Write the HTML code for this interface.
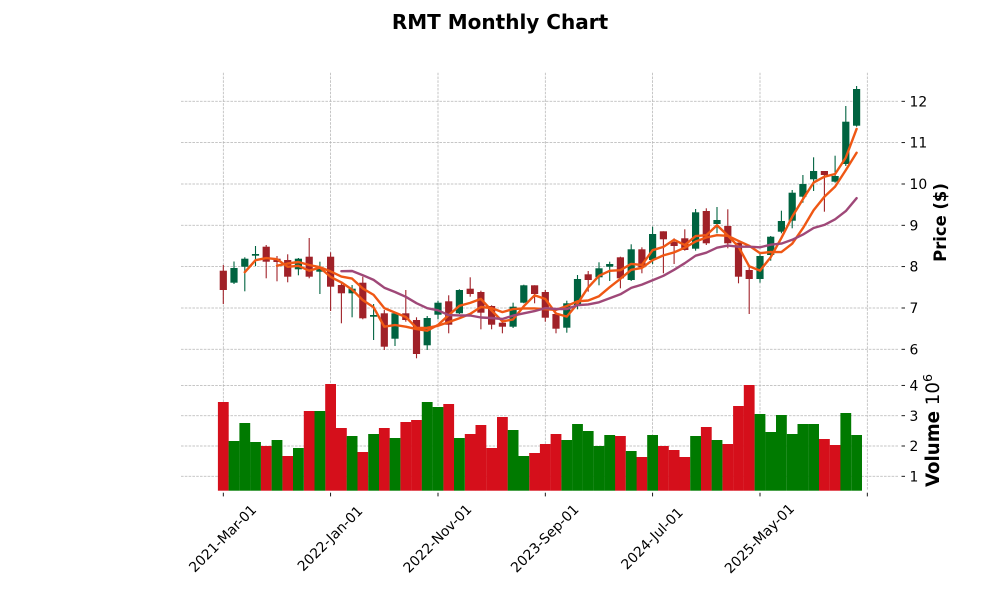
<!DOCTYPE html>
<html><head><meta charset="utf-8"><style>
html,body{margin:0;padding:0;background:#fff;}
svg{display:block;}
text{font-family:"DejaVu Sans","Liberation Sans",sans-serif;fill:#000;}
</style></head><body>
<svg width="1000" height="600" viewBox="0 0 1000 600" xmlns="http://www.w3.org/2000/svg">
<rect width="1000" height="600" fill="#fff"/>
<text x="500" y="29" text-anchor="middle" font-size="20" font-weight="bold">RMT Monthly Chart</text>
<g stroke="#b4b4b4" stroke-width="0.75" stroke-dasharray="2.6,1.2" fill="none">
<line x1="223.3" y1="72.7" x2="223.3" y2="490.7"/><line x1="330.6" y1="72.7" x2="330.6" y2="490.7"/><line x1="438" y1="72.7" x2="438" y2="490.7"/><line x1="545.3" y1="72.7" x2="545.3" y2="490.7"/><line x1="652.6" y1="72.7" x2="652.6" y2="490.7"/><line x1="760" y1="72.7" x2="760" y2="490.7"/><line x1="867.3" y1="72.7" x2="867.3" y2="490.7"/>
<line x1="181" y1="101.3" x2="898.6" y2="101.3"/><line x1="181" y1="142.6" x2="898.6" y2="142.6"/><line x1="181" y1="184" x2="898.6" y2="184"/><line x1="181" y1="225.3" x2="898.6" y2="225.3"/><line x1="181" y1="266.6" x2="898.6" y2="266.6"/><line x1="181" y1="308" x2="898.6" y2="308"/><line x1="181" y1="349.3" x2="898.6" y2="349.3"/>
<line x1="181" y1="385.4" x2="898.6" y2="385.4"/><line x1="181" y1="415.7" x2="898.6" y2="415.7"/><line x1="181" y1="446" x2="898.6" y2="446"/><line x1="181" y1="476.3" x2="898.6" y2="476.3"/>
</g>
<g fill="#d50f1b">
<rect x="217.9" y="402" width="10.8" height="88.7"/><rect x="260.8" y="446" width="10.8" height="44.7"/><rect x="282.3" y="456" width="10.8" height="34.7"/><rect x="303.8" y="411" width="10.8" height="79.7"/><rect x="325.2" y="384" width="10.8" height="106.7"/><rect x="336" y="428" width="10.8" height="62.7"/><rect x="357.4" y="452" width="10.8" height="38.7"/><rect x="378.9" y="428" width="10.8" height="62.7"/><rect x="400.4" y="422" width="10.8" height="68.7"/><rect x="411.1" y="420" width="10.8" height="70.7"/><rect x="443.3" y="404" width="10.8" height="86.7"/><rect x="464.8" y="434" width="10.8" height="56.7"/><rect x="475.5" y="425" width="10.8" height="65.7"/><rect x="486.2" y="448" width="10.8" height="42.7"/><rect x="497" y="417" width="10.8" height="73.7"/><rect x="529.2" y="453" width="10.8" height="37.7"/><rect x="539.9" y="444" width="10.8" height="46.7"/><rect x="550.6" y="434" width="10.8" height="56.7"/><rect x="615" y="436" width="10.8" height="54.7"/><rect x="636.5" y="457" width="10.8" height="33.7"/><rect x="658" y="446" width="10.8" height="44.7"/><rect x="668.7" y="450" width="10.8" height="40.7"/><rect x="679.4" y="457" width="10.8" height="33.7"/><rect x="700.9" y="427" width="10.8" height="63.7"/><rect x="722.4" y="444" width="10.8" height="46.7"/><rect x="733.1" y="406" width="10.8" height="84.7"/><rect x="743.8" y="385" width="10.8" height="105.7"/><rect x="819" y="439" width="10.8" height="51.7"/><rect x="829.7" y="445" width="10.8" height="45.7"/>
</g>
<g fill="#007a00">
<rect x="228.6" y="441" width="10.8" height="49.7"/><rect x="239.4" y="423" width="10.8" height="67.7"/><rect x="250.1" y="442" width="10.8" height="48.7"/><rect x="271.6" y="440" width="10.8" height="50.7"/><rect x="293" y="448" width="10.8" height="42.7"/><rect x="314.5" y="411" width="10.8" height="79.7"/><rect x="346.7" y="436" width="10.8" height="54.7"/><rect x="368.2" y="434" width="10.8" height="56.7"/><rect x="389.6" y="438" width="10.8" height="52.7"/><rect x="421.8" y="402" width="10.8" height="88.7"/><rect x="432.6" y="407" width="10.8" height="83.7"/><rect x="454" y="438" width="10.8" height="52.7"/><rect x="507.7" y="430" width="10.8" height="60.7"/><rect x="518.4" y="456" width="10.8" height="34.7"/><rect x="561.4" y="440" width="10.8" height="50.7"/><rect x="572.1" y="424" width="10.8" height="66.7"/><rect x="582.8" y="431" width="10.8" height="59.7"/><rect x="593.6" y="446" width="10.8" height="44.7"/><rect x="604.3" y="435" width="10.8" height="55.7"/><rect x="625.8" y="451" width="10.8" height="39.7"/><rect x="647.2" y="435" width="10.8" height="55.7"/><rect x="690.2" y="436" width="10.8" height="54.7"/><rect x="711.6" y="440" width="10.8" height="50.7"/><rect x="754.6" y="414" width="10.8" height="76.7"/><rect x="765.3" y="432" width="10.8" height="58.7"/><rect x="776" y="415" width="10.8" height="75.7"/><rect x="786.8" y="434" width="10.8" height="56.7"/><rect x="797.5" y="424" width="10.8" height="66.7"/><rect x="808.2" y="424" width="10.8" height="66.7"/><rect x="840.4" y="413" width="10.8" height="77.7"/><rect x="851.2" y="435" width="10.8" height="55.7"/>
</g>
<g stroke="#a02128" stroke-width="1.1" fill="#a02128">
<line x1="223.3" y1="265" x2="223.3" y2="304"/><rect x="219.7" y="270.7" width="7.2" height="19.3" stroke="none"/>
<line x1="266.2" y1="245" x2="266.2" y2="278.3"/><rect x="262.6" y="246.7" width="7.2" height="15" stroke="none"/>
<line x1="277" y1="256" x2="277" y2="281.3"/><rect x="273.4" y="258.7" width="7.2" height="3.3" stroke="none"/>
<line x1="287.7" y1="254.3" x2="287.7" y2="282.3"/><rect x="284.1" y="260" width="7.2" height="16.7" stroke="none"/>
<line x1="309.2" y1="238" x2="309.2" y2="278.3"/><rect x="305.6" y="256.7" width="7.2" height="20" stroke="none"/>
<line x1="330.6" y1="252.3" x2="330.6" y2="311"/><rect x="327" y="256.7" width="7.2" height="30" stroke="none"/>
<line x1="341.4" y1="283.3" x2="341.4" y2="323.3"/><rect x="337.8" y="285" width="7.2" height="8.3" stroke="none"/>
<line x1="362.8" y1="276.7" x2="362.8" y2="319.3"/><rect x="359.2" y="282.7" width="7.2" height="35.6" stroke="none"/>
<line x1="384.3" y1="310" x2="384.3" y2="350"/><rect x="380.7" y="313.3" width="7.2" height="33.4" stroke="none"/>
<line x1="405.8" y1="290" x2="405.8" y2="321.7"/><rect x="402.2" y="313.3" width="7.2" height="6.7" stroke="none"/>
<line x1="416.5" y1="317.3" x2="416.5" y2="358.3"/><rect x="412.9" y="320" width="7.2" height="34" stroke="none"/>
<line x1="448.7" y1="295.3" x2="448.7" y2="333.3"/><rect x="445.1" y="301.3" width="7.2" height="23.4" stroke="none"/>
<line x1="470.2" y1="277.3" x2="470.2" y2="296.7"/><rect x="466.6" y="288.7" width="7.2" height="5.3" stroke="none"/>
<line x1="480.9" y1="290.7" x2="480.9" y2="329.3"/><rect x="477.3" y="292" width="7.2" height="20.7" stroke="none"/>
<line x1="491.6" y1="305.3" x2="491.6" y2="329.3"/><rect x="488" y="306" width="7.2" height="18.7" stroke="none"/>
<line x1="502.4" y1="320" x2="502.4" y2="333.3"/><rect x="498.8" y="322.7" width="7.2" height="4" stroke="none"/>
<line x1="534.6" y1="285.3" x2="534.6" y2="303.3"/><rect x="531" y="285.3" width="7.2" height="8.7" stroke="none"/>
<line x1="545.3" y1="290" x2="545.3" y2="321.7"/><rect x="541.7" y="292" width="7.2" height="25.7" stroke="none"/>
<line x1="556" y1="312.7" x2="556" y2="333.3"/><rect x="552.4" y="314" width="7.2" height="14.7" stroke="none"/>
<line x1="588.2" y1="271" x2="588.2" y2="291.7"/><rect x="584.6" y="274.3" width="7.2" height="5.7" stroke="none"/>
<line x1="620.4" y1="256.7" x2="620.4" y2="288.3"/><rect x="616.8" y="257.3" width="7.2" height="21" stroke="none"/>
<line x1="641.9" y1="247.3" x2="641.9" y2="273.3"/><rect x="638.3" y="249.3" width="7.2" height="18" stroke="none"/>
<line x1="663.4" y1="231.3" x2="663.4" y2="273.3"/><rect x="659.8" y="231.3" width="7.2" height="8" stroke="none"/>
<line x1="674.1" y1="238.3" x2="674.1" y2="264"/><rect x="670.5" y="242" width="7.2" height="4" stroke="none"/>
<line x1="684.8" y1="229.3" x2="684.8" y2="250.7"/><rect x="681.2" y="238.3" width="7.2" height="11.7" stroke="none"/>
<line x1="706.3" y1="208.3" x2="706.3" y2="245"/><rect x="702.7" y="211" width="7.2" height="32.3" stroke="none"/>
<line x1="727.8" y1="209.3" x2="727.8" y2="248.3"/><rect x="724.2" y="226" width="7.2" height="17.3" stroke="none"/>
<line x1="738.5" y1="242.7" x2="738.5" y2="283.3"/><rect x="734.9" y="242.7" width="7.2" height="34" stroke="none"/>
<line x1="749.2" y1="266.7" x2="749.2" y2="314"/><rect x="745.6" y="270" width="7.2" height="9" stroke="none"/>
<line x1="824.4" y1="171" x2="824.4" y2="211.7"/><rect x="820.8" y="171" width="7.2" height="4" stroke="none"/>
</g>
<g stroke="#006340" stroke-width="1.1" fill="#006340">
<line x1="234" y1="261.5" x2="234" y2="284"/><rect x="230.4" y="268" width="7.2" height="14.7" stroke="none"/>
<line x1="244.8" y1="257.3" x2="244.8" y2="291.3"/><rect x="241.2" y="258.7" width="7.2" height="8" stroke="none"/>
<line x1="255.5" y1="246" x2="255.5" y2="266"/><rect x="251.9" y="254" width="7.2" height="1.7" stroke="none"/>
<line x1="298.4" y1="258" x2="298.4" y2="275.3"/><rect x="294.8" y="258.7" width="7.2" height="10.6" stroke="none"/>
<line x1="319.9" y1="261.7" x2="319.9" y2="294"/><rect x="316.3" y="267.3" width="7.2" height="4.4" stroke="none"/>
<line x1="352.1" y1="285" x2="352.1" y2="317.3"/><rect x="348.5" y="288.7" width="7.2" height="4.6" stroke="none"/>
<line x1="373.6" y1="304" x2="373.6" y2="340"/><rect x="370" y="315" width="7.2" height="1.7" stroke="none"/>
<line x1="395" y1="312.3" x2="395" y2="346"/><rect x="391.4" y="313.3" width="7.2" height="25.4" stroke="none"/>
<line x1="427.2" y1="316" x2="427.2" y2="350"/><rect x="423.6" y="318" width="7.2" height="27.3" stroke="none"/>
<line x1="438" y1="300.7" x2="438" y2="319.3"/><rect x="434.4" y="302.7" width="7.2" height="12" stroke="none"/>
<line x1="459.4" y1="289.3" x2="459.4" y2="314"/><rect x="455.8" y="290" width="7.2" height="23.3" stroke="none"/>
<line x1="513.1" y1="302.7" x2="513.1" y2="328"/><rect x="509.5" y="306.7" width="7.2" height="20" stroke="none"/>
<line x1="523.8" y1="284.7" x2="523.8" y2="303.3"/><rect x="520.2" y="285.3" width="7.2" height="17.4" stroke="none"/>
<line x1="566.8" y1="300.7" x2="566.8" y2="332.7"/><rect x="563.2" y="303.3" width="7.2" height="24.4" stroke="none"/>
<line x1="577.5" y1="275" x2="577.5" y2="309.3"/><rect x="573.9" y="279" width="7.2" height="26" stroke="none"/>
<line x1="599" y1="262.3" x2="599" y2="285.3"/><rect x="595.4" y="268.3" width="7.2" height="9" stroke="none"/>
<line x1="609.7" y1="261.7" x2="609.7" y2="281"/><rect x="606.1" y="264" width="7.2" height="2.7" stroke="none"/>
<line x1="631.2" y1="244.3" x2="631.2" y2="281"/><rect x="627.6" y="249.3" width="7.2" height="30.7" stroke="none"/>
<line x1="652.6" y1="226.7" x2="652.6" y2="264"/><rect x="649" y="234" width="7.2" height="26" stroke="none"/>
<line x1="695.6" y1="209" x2="695.6" y2="250.7"/><rect x="692" y="212.3" width="7.2" height="36.4" stroke="none"/>
<line x1="717" y1="207" x2="717" y2="233.3"/><rect x="713.4" y="220" width="7.2" height="4" stroke="none"/>
<line x1="760" y1="253.3" x2="760" y2="282.7"/><rect x="756.4" y="256" width="7.2" height="23" stroke="none"/>
<line x1="770.7" y1="236" x2="770.7" y2="260.7"/><rect x="767.1" y="236.7" width="7.2" height="18.3" stroke="none"/>
<line x1="781.4" y1="210.7" x2="781.4" y2="233.3"/><rect x="777.8" y="221" width="7.2" height="10.7" stroke="none"/>
<line x1="792.2" y1="190" x2="792.2" y2="228.3"/><rect x="788.6" y="192.7" width="7.2" height="28" stroke="none"/>
<line x1="802.9" y1="175" x2="802.9" y2="202.7"/><rect x="799.3" y="184" width="7.2" height="12.7" stroke="none"/>
<line x1="813.6" y1="157.3" x2="813.6" y2="191"/><rect x="810" y="171" width="7.2" height="8.3" stroke="none"/>
<line x1="835.1" y1="155.7" x2="835.1" y2="182.7"/><rect x="831.5" y="176" width="7.2" height="5.7" stroke="none"/>
<line x1="845.8" y1="106" x2="845.8" y2="166"/><rect x="842.2" y="121.7" width="7.2" height="42.3" stroke="none"/>
<line x1="856.6" y1="86" x2="856.6" y2="126.7"/><rect x="853" y="89" width="7.2" height="36.7" stroke="none"/>
</g>
<g fill="none" stroke-width="2.4" stroke-linejoin="round" stroke-linecap="round">
<polyline stroke="#ef5714" points="244.8,272.2 255.5,260.2 266.2,258.1 277.0,259.2 287.7,266.8 298.4,265.8 309.2,270.7 319.9,267.6 330.6,276.9 341.4,282.4 352.1,289.6 362.8,300.1 373.6,307.3 384.3,326.7 395.0,325 405.8,326.7 416.5,329.1 427.2,330.7 438.0,324.9 448.7,315.1 459.4,305.8 470.2,302.9 480.9,298.9 491.6,310.5 502.4,321.4 513.1,319.4 523.8,306.2 534.6,295.3 545.3,299 556.0,313.5 566.8,316.6 577.5,303.7 588.2,287.4 599.0,275.8 609.7,270.8 620.4,270.2 631.2,263.9 641.9,265 652.6,250.2 663.4,246.9 674.1,239.8 684.8,245.1 695.6,236.1 706.3,235.2 717.0,225.2 727.8,235.5 738.5,246.7 749.2,266.3 760.0,270.6 770.7,257.2 781.4,237.9 792.2,216.8 802.9,199.2 813.6,182.6 824.4,176.7 835.1,174 845.8,157.6 856.6,128.9"/>
<polyline stroke="#ef5714" points="277.0,265.7 287.7,263.5 298.4,262 309.2,265 319.9,267.2 330.6,271.4 341.4,276.6 352.1,278.6 362.8,288.5 373.6,294.9 384.3,308.1 395.0,312.6 405.8,317 416.5,327.9 427.2,327.8 438.0,325.8 448.7,322.1 459.4,318.2 470.2,313.9 480.9,307 491.6,308.1 502.4,312.1 513.1,309.1 523.8,308.4 534.6,308.4 545.3,309.2 556.0,309.9 566.8,306 577.5,301.3 588.2,300.5 599.0,296.2 609.7,287.2 620.4,278.8 631.2,269.8 641.9,267.9 652.6,260.2 663.4,255.4 674.1,252.4 684.8,247.7 695.6,241.5 706.3,237.5 717.0,235.2 727.8,235.8 738.5,240.9 749.2,245.8 760.0,253.1 770.7,252 781.4,252.1 792.2,243.7 802.9,228.2 813.6,210.2 824.4,196.7 835.1,186.6 845.8,170.1 856.6,152.8"/>
<polyline stroke="#9f4878" points="341.4,271.2 352.1,271 362.8,275.2 373.6,279.9 384.3,287.7 395.0,292 405.8,296.8 416.5,303.2 427.2,308.2 438.0,310.3 448.7,315.1 459.4,315.4 470.2,315.5 480.9,317.5 491.6,318 502.4,319 513.1,315.6 523.8,313.3 534.6,311.1 545.3,308.1 556.0,309 566.8,309 577.5,305.2 588.2,304.4 599.0,302.3 609.7,298.2 620.4,294.3 631.2,287.9 641.9,284.6 652.6,280.3 663.4,275.8 674.1,269.8 684.8,263.2 695.6,255.7 706.3,252.7 717.0,247.7 727.8,245.6 738.5,246.7 749.2,246.7 760.0,247.3 770.7,244.7 781.4,243.6 792.2,239.8 802.9,234.6 813.6,228 824.4,224.9 835.1,219.3 845.8,211.1 856.6,198.2"/>
</g>
<g stroke="#000" stroke-width="0.9">
<line x1="901.5" y1="101.3" x2="905" y2="101.3"/><line x1="901.5" y1="142.6" x2="905" y2="142.6"/><line x1="901.5" y1="184" x2="905" y2="184"/><line x1="901.5" y1="225.3" x2="905" y2="225.3"/><line x1="901.5" y1="266.6" x2="905" y2="266.6"/><line x1="901.5" y1="308" x2="905" y2="308"/><line x1="901.5" y1="349.3" x2="905" y2="349.3"/>
<line x1="901.5" y1="385.4" x2="905" y2="385.4"/><line x1="901.5" y1="415.7" x2="905" y2="415.7"/><line x1="901.5" y1="446" x2="905" y2="446"/><line x1="901.5" y1="476.3" x2="905" y2="476.3"/>
<line x1="223.3" y1="492.7" x2="223.3" y2="496.4"/><line x1="330.6" y1="492.7" x2="330.6" y2="496.4"/><line x1="438" y1="492.7" x2="438" y2="496.4"/><line x1="545.3" y1="492.7" x2="545.3" y2="496.4"/><line x1="652.6" y1="492.7" x2="652.6" y2="496.4"/><line x1="760" y1="492.7" x2="760" y2="496.4"/><line x1="867.3" y1="492.7" x2="867.3" y2="496.4"/>
</g>
<g font-size="13.9">
<text x="909.5" y="106.4">12</text><text x="909.5" y="147.7">11</text><text x="909.5" y="189.1">10</text><text x="909.5" y="230.4">9</text><text x="909.5" y="271.7">8</text><text x="909.5" y="313.1">7</text><text x="909.5" y="354.4">6</text>
<text x="909.5" y="390.5">4</text><text x="909.5" y="420.8">3</text><text x="909.5" y="451.1">2</text><text x="909.5" y="481.4">1</text>
</g>
<g font-size="13.9" text-anchor="middle">
<text transform="translate(222.5,538.3) rotate(-45)" dy="0.36em">2021-Mar-01</text>
<text transform="translate(329.8,538.3) rotate(-45)" dy="0.36em">2022-Jan-01</text>
<text transform="translate(437.2,538.3) rotate(-45)" dy="0.36em">2022-Nov-01</text>
<text transform="translate(544.5,538.3) rotate(-45)" dy="0.36em">2023-Sep-01</text>
<text transform="translate(651.8,538.3) rotate(-45)" dy="0.36em">2024-Jul-01</text>
<text transform="translate(759.2,538.3) rotate(-45)" dy="0.36em">2025-May-01</text>
</g>
<text transform="translate(946,222.5) rotate(-90)" text-anchor="middle" font-size="16.4" font-weight="bold">Price ($)</text>
<text transform="translate(939,430.5) rotate(-90)" text-anchor="middle" font-size="18.2"><tspan font-weight="bold">Volume</tspan><tspan>  10</tspan><tspan dy="-7" font-size="12.7">6</tspan></text>
</svg>
</body></html>
